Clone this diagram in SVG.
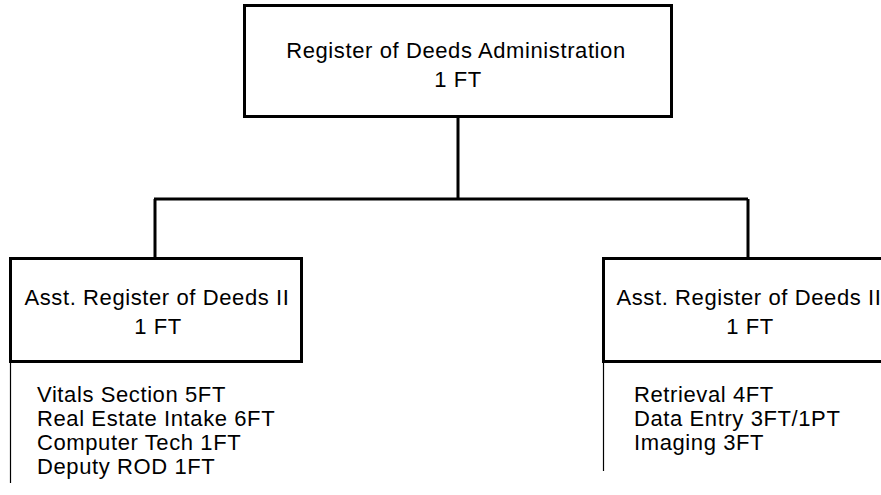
<svg xmlns="http://www.w3.org/2000/svg" width="881" height="495" viewBox="0 0 881 495">
<style>
.box{fill:#fff;stroke:#000;stroke-width:3}
.conn{fill:none;stroke:#000;stroke-width:3}
.thin{fill:none;stroke:#000;stroke-width:1.2}
text{font-family:"Liberation Sans",Arial,sans-serif;font-size:22px;letter-spacing:0.6px;fill:#000}
.c{text-anchor:middle}
</style>
<rect width="881" height="495" fill="#fff"/>
<g id="connectors">
<path class="conn" d="M458,117 V199 M154,199 H748 M155,199 V258 M748,199 V258"/>
</g>
<g id="admin">
<rect class="box" x="244.5" y="5.5" width="427" height="111"/>
<text class="c" x="456" y="58">Register of Deeds Administration</text>
<text class="c" x="458" y="87">1 FT</text>
</g>
<g id="asst-left">
<rect class="box" x="10.5" y="258.5" width="291" height="103"/>
<text class="c" x="157" y="305">Asst. Register of Deeds II</text>
<text class="c" x="158" y="334">1 FT</text>
<path class="thin" d="M10.5,362 V483"/>
<text x="37" y="402">Vitals Section 5FT</text>
<text x="37" y="426">Real Estate Intake 6FT</text>
<text x="37" y="450">Computer Tech 1FT</text>
<text x="37" y="474">Deputy ROD 1FT</text>
</g>
<g id="asst-right">
<rect class="box" x="603.5" y="258.5" width="291" height="103"/>
<text class="c" x="749" y="305">Asst. Register of Deeds II</text>
<text class="c" x="750" y="334">1 FT</text>
<path class="thin" d="M603.5,362 V471"/>
<text x="634" y="402">Retrieval 4FT</text>
<text x="634" y="426">Data Entry 3FT/1PT</text>
<text x="634" y="450">Imaging 3FT</text>
</g>
</svg>
